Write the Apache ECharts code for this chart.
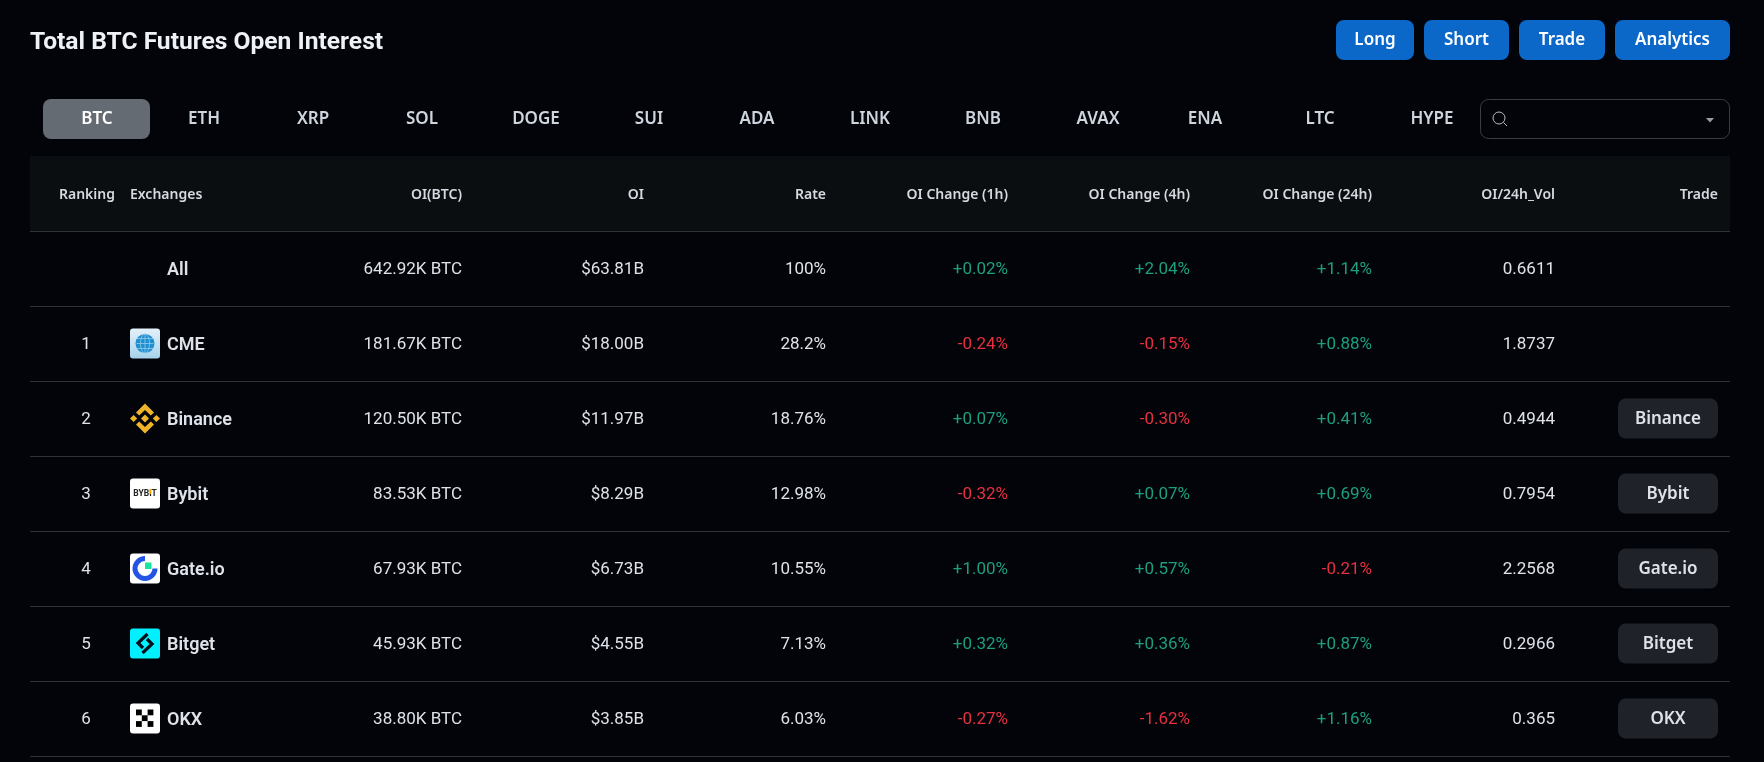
<!DOCTYPE html>
<html lang="en">
<head>
    <meta charset="UTF-8">
    <title>Total BTC Futures Open Interest</title>
    <script src="https://cdn.jsdelivr.net/npm/echarts@6/dist/echarts.min.js"></script>
    <style>
        html, body, #main {
            width: 100%;
            height: 100%;
            padding: 0;
            margin: 0;
            background: #02040a;
        }
    </style>
</head>
<body>
<div id="main"></div>
<script>
    // table content
    var coins = ["BTC", "ETH", "XRP", "SOL", "DOGE", "SUI", "ADA", "LINK", "BNB", "AVAX", "ENA", "LTC", "HYPE"];
    var actions = ["Long", "Short", "Trade", "Analytics"];
    var headers = ["Ranking", "Exchanges", "OI(BTC)", "OI", "Rate", "OI Change (1h)", "OI Change (4h)", "OI Change (24h)", "OI/24h_Vol", "Trade"];
    var exchanges = ["All", "CME", "Binance", "Bybit", "Gate.io", "Bitget", "OKX"];
    var ranking = ["", "1", "2", "3", "4", "5", "6"];
    var oiBtc = ["642.92K BTC", "181.67K BTC", "120.50K BTC", "83.53K BTC", "67.93K BTC", "45.93K BTC", "38.80K BTC"];
    var oiUsd = ["$63.81B", "$18.00B", "$11.97B", "$8.29B", "$6.73B", "$4.55B", "$3.85B"];
    var rate = ["100%", "28.2%", "18.76%", "12.98%", "10.55%", "7.13%", "6.03%"];
    var change1h = ["+0.02%", "-0.24%", "+0.07%", "-0.32%", "+1.00%", "+0.32%", "-0.27%"];
    var change4h = ["+2.04%", "-0.15%", "-0.30%", "+0.07%", "+0.57%", "+0.36%", "-1.62%"];
    var change24h = ["+1.14%", "+0.88%", "+0.41%", "+0.69%", "-0.21%", "+0.87%", "+1.16%"];
    var volRatio = ["0.6611", "1.8737", "0.4944", "0.7954", "2.2568", "0.2966", "0.365"];
    var tradeLinks = ["", "", "Binance", "Bybit", "Gate.io", "Bitget", "OKX"];

    // layout, kept apart from the content
    var headFont = "'Noto Sans', sans-serif";
    var numFont = "Roboto, sans-serif";
    var tabCenters = [97, 204, 313, 422, 536, 649, 757, 870, 983, 1098, 1205, 1320, 1432];
    var actionBoxes = [[1336, 78], [1424, 85], [1519, 86], [1615, 115]];
    var headerX = [115, 130, 462, 644, 826, 1008, 1190, 1372, 1555, 1718];
    var headerAlign = ["right", "left", "right", "right", "right", "right", "right", "right", "right", "right"];
    var numberCols = [
        {x: 462, values: oiBtc},
        {x: 644, values: oiUsd},
        {x: 826, values: rate},
        {x: 1008, values: change1h, signed: true},
        {x: 1190, values: change4h, signed: true},
        {x: 1372, values: change24h, signed: true},
        {x: 1555, values: volRatio}
    ];
    var green = "#1d9f7f";
    var red = "#e6303f";
    var textColor = "#dfe3e9";

    var rowNames = ["header"].concat(exchanges);

    function logo(name) {
        var kids = [];
        var box = function (fill) {
            return {type: "rect", shape: {x: 0, y: 0, width: 30, height: 30, r: 3}, style: {fill: fill}};
        };
        var square = function (x, y, s, fill) {
            return {type: "rect", shape: {x: x, y: y, width: s, height: s}, style: {fill: fill}};
        };
        var diamond = function (cx, cy, s, fill) {
            return {type: "polygon", shape: {points: [[cx, cy - s], [cx + s, cy], [cx, cy + s], [cx - s, cy]]}, style: {fill: fill}};
        };
        if (name === "CME") {
            kids.push(box(new echarts.graphic.LinearGradient(0, 0, 0, 1, [
                {offset: 0, color: "#e4f1f9"}, {offset: 1, color: "#a6d2ec"}
            ])));
            kids.push({type: "circle", shape: {cx: 15, cy: 15, r: 9.5}, style: {fill: "#1f8fd0"}});
            kids.push({type: "ellipse", shape: {cx: 15, cy: 15, rx: 4.5, ry: 9.5}, style: {fill: "none", stroke: "#8fcdec", lineWidth: 0.8}});
            [10, 15, 20].forEach(function (y) {
                kids.push({type: "line", shape: {x1: 6.5, y1: y, x2: 23.5, y2: y}, style: {stroke: "#8fcdec", lineWidth: 0.8}});
            });
            kids.push({type: "line", shape: {x1: 15, y1: 5.5, x2: 15, y2: 24.5}, style: {stroke: "#8fcdec", lineWidth: 0.8}});
        } else if (name === "Binance") {
            var gold = "#f0b429";
            kids.push(diamond(15, 15, 4, gold));
            kids.push(diamond(3.6, 15, 3.6, gold));
            kids.push(diamond(26.4, 15, 3.6, gold));
            kids.push({type: "polygon", shape: {points: [[15, 0], [24, 9], [20.8, 12], [15, 6.4], [9.2, 12], [6, 9]]}, style: {fill: gold}});
            kids.push({type: "polygon", shape: {points: [[15, 30], [24, 21], [20.8, 18], [15, 23.6], [9.2, 18], [6, 21]]}, style: {fill: gold}});
        } else if (name === "Bybit") {
            kids.push(box("#ffffff"));
            kids.push({type: "text", x: 15, y: 15.5, style: {
                text: "BYBIT", fill: "#222222", font: "bold 8.5px " + numFont, align: "center", verticalAlign: "middle"
            }});
            kids.push({type: "rect", shape: {x: 19.6, y: 10.5, width: 1.4, height: 5}, style: {fill: "#f7a600"}});
        } else if (name === "Gate.io") {
            kids.push(box("#ffffff"));
            kids.push({type: "arc", shape: {cx: 15, cy: 15, r: 10, startAngle: 0, endAngle: Math.PI * 1.5, clockwise: true},
                style: {fill: "none", stroke: "#2354e6", lineWidth: 5}});
            kids.push(square(15, 9, 6.5, "#17e6a1"));
        } else if (name === "Bitget") {
            kids.push(box("#00f0ff"));
            kids.push({type: "polyline", shape: {points: [[17.5, 5.5], [8, 14.5], [13, 19.5]]}, style: {fill: "none", stroke: "#02111a", lineWidth: 3.2}});
            kids.push({type: "polyline", shape: {points: [[12.5, 24.5], [22, 15.5], [17, 10.5]]}, style: {fill: "none", stroke: "#02111a", lineWidth: 3.2}});
        } else if (name === "OKX") {
            kids.push(box("#ffffff"));
            [[6, 6], [17.6, 6], [11.8, 11.8], [6, 17.6], [17.6, 17.6]].forEach(function (p) {
                kids.push(square(p[0], p[1], 5.8, "#000000"));
            });
        }
        return kids;
    }

    function renderRow(params, api) {
        var row = api.value(0);
        var cy = api.coord([30, row])[1];
        var band = api.size([0, 1])[1];
        var left = api.coord([30, row])[0];
        var right = api.coord([1730, row])[0];
        var kids = [];
        var label = function (x, text, align, font, fill, dy) {
            return {
                type: "text",
                x: api.coord([x, row])[0],
                y: cy + dy,
                style: {text: text, fill: fill || textColor, font: font, align: align, verticalAlign: "middle"}
            };
        };

        if (row === 0) {
            kids.push({type: "rect", shape: {x: left, y: cy - band / 2, width: right - left, height: band}, style: {fill: "#0b0e11"}});
            headers.forEach(function (h, i) {
                kids.push(label(headerX[i], h, headerAlign[i], "600 14px " + headFont, "#d5dae1", 2));
            });
            return {type: "group", children: kids};
        }

        var i = row - 1;
        if (i === 0) {
            kids.push(label(167, exchanges[i], "left", "600 18px " + numFont, null, 1.5));
        } else {
            kids.push(label(86, ranking[i], "center", "400 17px " + numFont, null, 1.5));
            kids.push({type: "group", x: api.coord([130, row])[0], y: cy - 15, children: logo(exchanges[i])});
            kids.push(label(167, exchanges[i], "left", "600 18px " + numFont, null, 1.5));
        }
        numberCols.forEach(function (col) {
            var v = col.values[i];
            var fill = col.signed ? (v.charAt(0) === "-" ? red : green) : textColor;
            kids.push(label(col.x, v, "right", "400 17px " + numFont, fill, 1.5));
        });
        if (tradeLinks[i]) {
            var x0 = api.coord([1618, row])[0];
            kids.push({type: "rect", shape: {x: x0, y: cy - 20, width: 100, height: 40, r: 8}, style: {fill: "#1f2329"}});
            kids.push({
                type: "text", x: x0 + 50, y: cy + 0.5,
                style: {text: tradeLinks[i], fill: textColor, font: "600 17px " + headFont, align: "center", verticalAlign: "middle"}
            });
        }
        return {type: "group", children: kids};
    }

    var graphics = [];
    actions.forEach(function (a, i) {
        var b = actionBoxes[i];
        graphics.push({type: "rect", left: b[0], top: 20, shape: {width: b[1], height: 40, r: 8}, style: {fill: "#0b68c9"}});
        graphics.push({type: "text", x: b[0] + b[1] / 2, y: 40, style: {
            text: a, fill: "#ffffff", font: "600 17px " + headFont, align: "center", verticalAlign: "middle"
        }});
    });
    graphics.push({type: "rect", left: 43, top: 99, shape: {width: 107, height: 40, r: 8}, style: {fill: "#646b73"}});
    coins.forEach(function (c, i) {
        graphics.push({type: "text", x: tabCenters[i], y: 119, style: {
            text: c, fill: i === 0 ? "#ffffff" : "#cfd5dd", font: "600 17px " + headFont, align: "center", verticalAlign: "middle"
        }});
    });
    // search box
    graphics.push({type: "rect", shape: {x: 1480.5, y: 99.5, width: 249, height: 39, r: 8}, style: {fill: "none", stroke: "#3a3d44", lineWidth: 1}});
    graphics.push({type: "circle", shape: {cx: 1499, cy: 118, r: 6}, style: {fill: "none", stroke: "#b8bcc2", lineWidth: 1}});
    graphics.push({type: "line", shape: {x1: 1503.5, y1: 122.5, x2: 1507, y2: 126}, style: {stroke: "#b8bcc2", lineWidth: 1}});
    graphics.push({type: "polygon", shape: {points: [[1706, 118], [1714, 118], [1710, 122.5]]}, style: {fill: "#9a9ea4"}});

    var chart = echarts.init(document.getElementById("main"));
    chart.setOption({
        backgroundColor: "#02040a",
        animation: false,
        title: {
            text: "Total BTC Futures Open Interest",
            left: 30,
            top: 30,
            padding: 0,
            textStyle: {color: "#eef1f6", fontFamily: "Roboto, sans-serif", fontSize: 24.6, fontWeight: 700}
        },
        grid: {left: 30, right: 34, top: 156, bottom: 6},
        xAxis: {type: "value", min: 30, max: 1730, show: false},
        yAxis: {
            type: "category",
            inverse: true,
            data: rowNames,
            axisLine: {show: false},
            axisTick: {show: false},
            axisLabel: {show: false},
            splitLine: {show: true, lineStyle: {color: "#2e3138", width: 1}}
        },
        series: [{
            type: "custom",
            silent: true,
            clip: false,
            z: 1,
            renderItem: renderRow,
            encode: {x: 1, y: 0},
            data: rowNames.map(function (n, i) { return [i, 30]; })
        }],
        graphic: graphics
    });
</script>
</body>
</html>
